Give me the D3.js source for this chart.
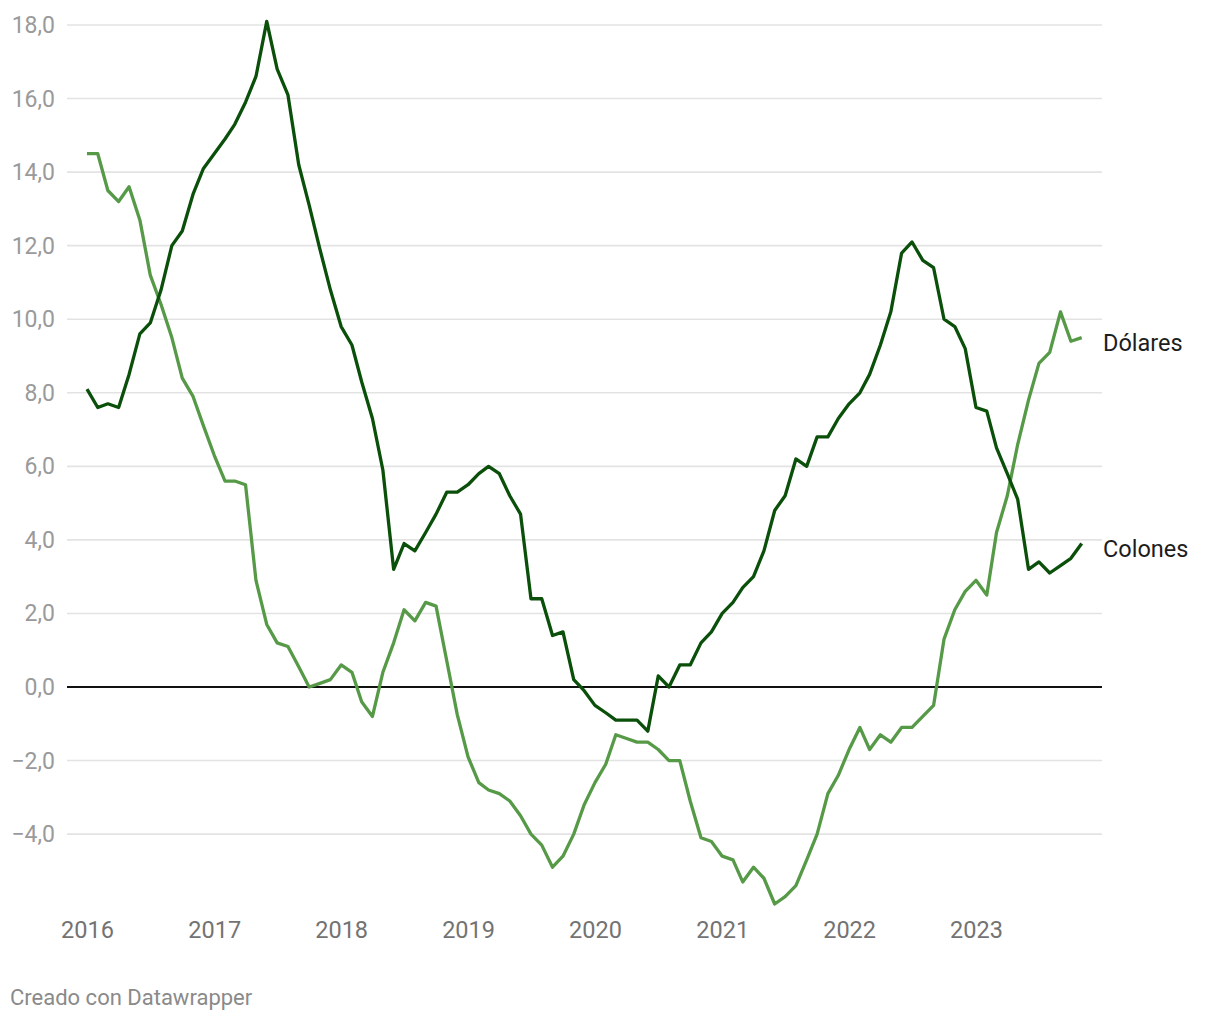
<!DOCTYPE html>
<html>
<head>
<meta charset="utf-8">
<script src="https://cdn.jsdelivr.net/npm/d3@7"></script>
<style>
  body { margin: 0; background: #fff; }
  svg { display: block; font-family: Roboto, "Noto Sans", sans-serif; }
</style>
</head>
<body>
<svg id="chart" width="1220" height="1020"></svg>
<script>
// Monthly series, Jan 2016 – Nov 2023
const startYear = 2016;
const colones = [
  8.1, 7.6, 7.7, 7.6, 8.5, 9.6, 9.9, 10.8, 12.0, 12.4, 13.4, 14.1,
  14.5, 14.9, 15.3, 15.9, 16.6, 18.1, 16.8, 16.1, 14.2, 13.1, 11.9, 10.8,
  9.8, 9.3, 8.3, 7.3, 5.9, 3.2, 3.9, 3.7, 4.2, 4.7, 5.3, 5.3,
  5.5, 5.8, 6.0, 5.8, 5.2, 4.7, 2.4, 2.4, 1.4, 1.5, 0.2, -0.1,
  -0.5, -0.7, -0.9, -0.9, -0.9, -1.2, 0.3, 0.0, 0.6, 0.6, 1.2, 1.5,
  2.0, 2.3, 2.7, 3.0, 3.7, 4.8, 5.2, 6.2, 6.0, 6.8, 6.8, 7.3,
  7.7, 8.0, 8.5, 9.3, 10.2, 11.8, 12.1, 11.6, 11.4, 10.0, 9.8, 9.2,
  7.6, 7.5, 6.5, 5.8, 5.1, 3.2, 3.4, 3.1, 3.3, 3.5, 3.9
];
const dolares = [
  14.5, 14.5, 13.5, 13.2, 13.6, 12.7, 11.2, 10.4, 9.5, 8.4, 7.9, 7.1,
  6.3, 5.6, 5.6, 5.5, 2.9, 1.7, 1.2, 1.1, 0.55, 0.0, 0.1, 0.2,
  0.6, 0.4, -0.4, -0.8, 0.4, 1.2, 2.1, 1.8, 2.3, 2.2, 0.7, -0.75,
  -1.9, -2.6, -2.8, -2.9, -3.1, -3.5, -4.0, -4.3, -4.9, -4.6, -4.0, -3.2,
  -2.6, -2.1, -1.3, -1.4, -1.5, -1.5, -1.7, -2.0, -2.0, -3.1, -4.1, -4.2,
  -4.6, -4.7, -5.3, -4.9, -5.2, -5.9, -5.7, -5.4, -4.7, -4.0, -2.9, -2.4,
  -1.7, -1.1, -1.7, -1.3, -1.5, -1.1, -1.1, -0.8, -0.5, 1.3, 2.1, 2.6,
  2.9, 2.5, 4.2, 5.2, 6.6, 7.8, 8.8, 9.1, 10.2, 9.4, 9.5
];
const yTicks = [18, 16, 14, 12, 10, 8, 6, 4, 2, 0, -2, -4];
const xTickYears = [2016, 2017, 2018, 2019, 2020, 2021, 2022, 2023];
const seriesNames = ["Dólares", "Colones"];
const footer = "Creado con Datawrapper";

const dates = colones.map((_, i) => new Date(startYear, i, 1));

const svg = d3.select("#chart");
const x = d3.scaleTime()
  .domain([new Date(2016, 0, 1), new Date(2023, 0, 1)])
  .range([87, 976]);
const y = d3.scaleLinear().domain([0, 18]).range([687, 25]);

const fmt = v => (v < 0 ? "\u2212" : "") + Math.abs(v).toFixed(1).replace(".", ",");

// grid
const grid = svg.append("g");
yTicks.forEach(t => {
  grid.append("line")
    .attr("x1", 67).attr("x2", 1102)
    .attr("y1", y(t)).attr("y2", y(t))
    .attr("stroke", t === 0 ? "#111" : "#e3e3e3")
    .attr("stroke-width", t === 0 ? 1.8 : 1.6);
  grid.append("text")
    .attr("x", 55).attr("y", y(t))
    .attr("dy", "0.35em")
    .attr("text-anchor", "end")
    .attr("fill", "#9a9a9a")
    .attr("font-size", 23)
    .text(fmt(t));
});

// x axis labels
const xAxis = d3.axisBottom(x)
  .tickValues(xTickYears.map(yr => new Date(yr, 0, 1)))
  .tickFormat(d3.timeFormat("%Y"))
  .tickSize(0).tickPadding(0);
const gx = svg.append("g").attr("transform", "translate(0,930)").call(xAxis);
gx.select(".domain").remove();
gx.selectAll("text")
  .attr("font-size", 23.5)
  .attr("fill", "#737373")
  .attr("font-family", "Roboto, sans-serif")
  .attr("dy", "0.35em");

const line = d3.line()
  .x((d, i) => x(dates[i]))
  .y(d => y(d));

svg.append("path").datum(dolares)
  .attr("d", line).attr("fill", "none")
  .attr("stroke", "#569a48").attr("stroke-width", 3.3)
  .attr("stroke-linejoin", "round");
svg.append("path").datum(colones)
  .attr("d", line).attr("fill", "none")
  .attr("stroke", "#0a4f0a").attr("stroke-width", 3.3)
  .attr("stroke-linejoin", "round");

// end labels
const lastI = colones.length - 1;
[[seriesNames[0], dolares[lastI]], [seriesNames[1], colones[lastI]]].forEach(([name, v]) => {
  svg.append("text")
    .attr("x", 1103).attr("y", y(v) + 5)
    .attr("dy", "0.35em")
    .attr("font-size", 23.5)
    .attr("fill", "#1d1d1d")
    .text(name);
});

svg.append("text")
  .attr("x", 10).attr("y", 997)
  .attr("dy", "0.35em")
  .attr("font-size", 22)
  .attr("fill", "#8a8a8a")
  .text(footer);
</script>
</body>
</html>
